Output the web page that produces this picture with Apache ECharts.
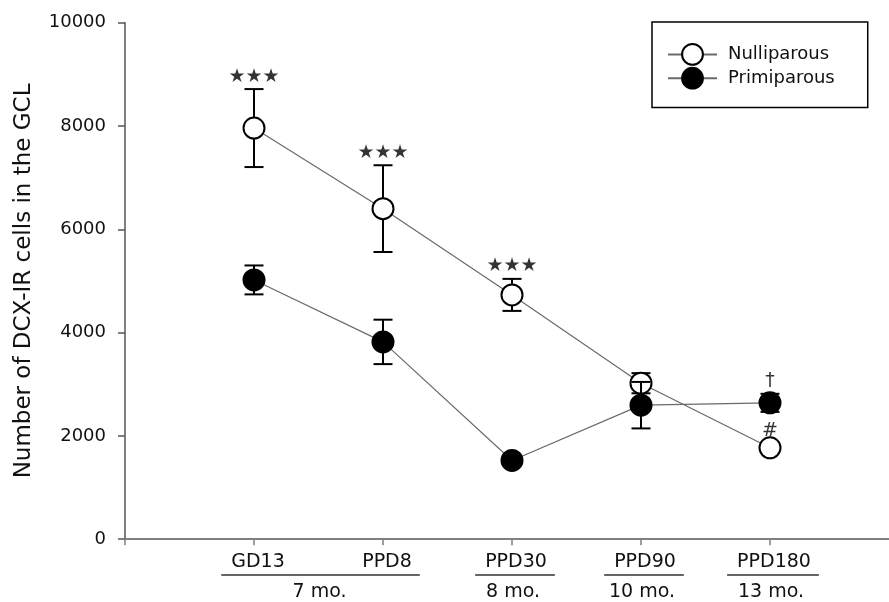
<!DOCTYPE html>
<html>
<head>
<meta charset="utf-8">
<script src="https://cdn.jsdelivr.net/npm/echarts@6/dist/echarts.min.js"></script>
<style>
  html, body { margin: 0; padding: 0; background: #fff; }
  #chart { width: 889px; height: 602px; }
</style>
</head>
<body>
<div id="chart"></div>
<script>
// time points along the x axis (index = x value)
const categories = ['GD13', 'PPD8', 'PPD30', 'PPD90', 'PPD180']
// age groups shown under the time points: label, first index, last index
const periods = ['7 mo.', '8 mo.', '10 mo.', '13 mo.']
const periodStart = [0, 2, 3, 4]
const periodEnd = [1, 2, 3, 4]

const yTicks = [0, 2000, 4000, 6000, 8000, 10000]

const nulliMean = [7960, 6400, 4730, 3020, 1770]
const nulliErr = [755, 840, 310, 195, 90]
const nulliNote = ['***', '***', '***', '', '#']

const primiMean = [5020, 3820, 1525, 2595, 2640]
const primiErr = [280, 430, 80, 450, 175]
const primiNote = ['', '', '', '', '†']

const FONT = 'DejaVu Sans'
const INK = '#111'

const chart = echarts.init(document.getElementById('chart'))

const toXY = (mean) => mean.map((v, i) => [i, v])
const toErr = (mean, err) => mean.map((v, i) => [i, v, err[i]])
const toNote = (mean, err, note) => mean.map((v, i) => [i, v + err[i], note[i]])

const errorBars = (params, api) => {
  const x = api.value(0)
  const m = api.value(1)
  const e = api.value(2)
  const top = api.coord([x, m + e])
  const bot = api.coord([x, m - e])
  const hw = 9.5
  const style = { stroke: '#000', lineWidth: 2 }
  return {
    type: 'group',
    children: [
      { type: 'line', shape: { x1: top[0], y1: top[1], x2: bot[0], y2: bot[1] }, style: style },
      { type: 'line', shape: { x1: top[0] - hw, y1: top[1], x2: top[0] + hw, y2: top[1] }, style: style },
      { type: 'line', shape: { x1: bot[0] - hw, y1: bot[1], x2: bot[0] + hw, y2: bot[1] }, style: style }
    ]
  }
}

const noteSeries = (data, size) => ({
  type: 'scatter',
  data: data,
  symbolSize: 0,
  silent: true,
  z: 10,
  label: {
    show: true,
    position: 'top',
    distance: 3,
    color: '#000',
    fontSize: size,
    fontFamily: FONT,
    formatter: (p) => p.value[2].replace(/\*/g, '★')
  }
})

const options = {
  animation: false,
  textStyle: { fontFamily: FONT },
  grid: { left: 125, right: -10, top: 22.7, bottom: 62.8, containLabel: false, outerBoundsMode: 'none' },
  legend: {
    orient: 'vertical',
    left: 652,
    top: 22,
    padding: [21, 33, 18, 15],
    itemGap: 1,
    itemWidth: 49,
    itemHeight: 26,
    borderColor: '#000',
    borderWidth: 1.5,
    textStyle: { fontSize: 18, color: INK, fontFamily: FONT, padding: [0, 0, 0, 6] },
    data: ['Nulliparous', 'Primiparous']
  },
  xAxis: {
    type: 'value',
    min: -1,
    max: 5,
    interval: 1,
    splitLine: { show: false },
    axisLine: { onZero: false, lineStyle: { color: '#808080', width: 2 } },
    axisTick: { show: true, length: 6, lineStyle: { color: '#808080', width: 1.5 } },
    axisLabel: {
      margin: 13,
      fontSize: 19,
      color: INK,
      padding: [0, 0, 0, 8],
      formatter: (v) => categories[v] || ''
    }
  },
  yAxis: {
    type: 'value',
    min: yTicks[0],
    max: yTicks[yTicks.length - 1],
    interval: yTicks[1] - yTicks[0],
    name: 'Number of DCX-IR cells in the GCL',
    nameLocation: 'middle',
    nameRotate: 90,
    nameGap: 89,
    nameTextStyle: { fontSize: 23, color: INK },
    splitLine: { show: false },
    axisLine: { show: true, onZero: false, lineStyle: { color: '#555', width: 1.5 } },
    axisTick: { show: true, length: 7, lineStyle: { color: '#555', width: 1.5 } },
    axisLabel: { margin: 19, fontSize: 18, color: INK, formatter: (v) => String(v) }
  },
  series: [
    {
      name: 'nulliErr',
      type: 'custom',
      renderItem: errorBars,
      data: toErr(nulliMean, nulliErr),
      z: 2,
      silent: true
    },
    {
      name: 'Nulliparous',
      type: 'line',
      data: toXY(nulliMean),
      symbol: 'circle',
      symbolSize: 21,
      z: 3,
      lineStyle: { color: '#6a6a6a', width: 1.2 },
      itemStyle: { color: '#fff', borderColor: '#000', borderWidth: 2 },
      emphasis: { disabled: true }
    },
    {
      name: 'primiErr',
      type: 'custom',
      renderItem: errorBars,
      data: toErr(primiMean, primiErr),
      z: 4,
      silent: true
    },
    {
      name: 'Primiparous',
      type: 'line',
      data: toXY(primiMean),
      symbol: 'circle',
      symbolSize: 21,
      z: 5,
      lineStyle: { color: '#6a6a6a', width: 1.2 },
      itemStyle: { color: '#000', borderColor: '#000', borderWidth: 2 },
      emphasis: { disabled: true }
    },
    noteSeries(toNote(nulliMean, nulliErr, nulliNote), 19),
    noteSeries(toNote(primiMean, primiErr, primiNote), 19)
  ]
}

chart.setOption(options, true)

// second row (age) and the underlines, placed from the x axis scale
const ctx = document.createElement('canvas').getContext('2d')
ctx.font = '19px "' + FONT + '"'
const half = (i) => ctx.measureText(categories[i]).width / 2
const px = (v) => chart.convertToPixel({ xAxisIndex: 0 }, v)
const lineY = 575
const graphics = []
periods.forEach((p, k) => {
  const a = px(periodStart[k])
  const b = px(periodEnd[k])
  graphics.push({
    type: 'line',
    shape: { x1: a + 4 - half(periodStart[k]) - 10, y1: lineY, x2: b + 4 + half(periodEnd[k]) + 8, y2: lineY },
    style: { stroke: '#666', lineWidth: 2 }
  })
  graphics.push({
    type: 'text',
    x: (a + b) / 2 + 1,
    y: 592,
    style: { text: p, fontSize: 19, fontFamily: FONT, fill: INK, align: 'center', verticalAlign: 'middle' }
  })
})
chart.setOption({ graphic: graphics })
</script>
</body>
</html>
